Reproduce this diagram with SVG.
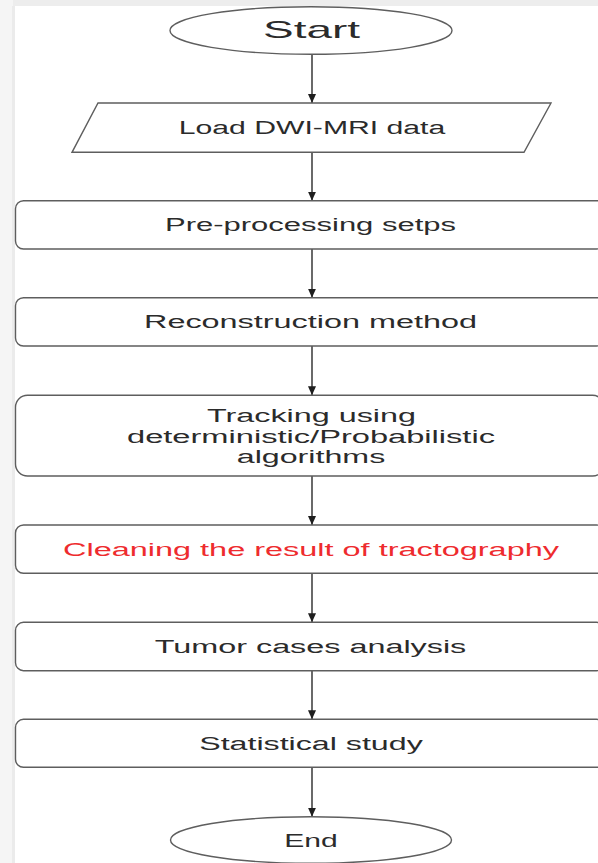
<svg xmlns="http://www.w3.org/2000/svg" width="598" height="863" viewBox="0 0 598 863">
  <style>
    .shape { fill: #ffffff; stroke: #5e5e5e; stroke-width: 1.4; }
    .label { font-family: "Liberation Sans", Arial, sans-serif; font-size: 18px; fill: #2b2b2b; text-anchor: middle; }
    .big { font-size: 24px; }
    .red { fill: #ee2b2e; }
    .edge { stroke: #2a2a2a; stroke-width: 1.4; fill: none; marker-end: url(#arrow); }
  </style>
  <defs>
    <marker id="arrow" viewBox="0 0 9 8" refX="9" refY="4" markerWidth="9" markerHeight="8" markerUnits="userSpaceOnUse" orient="auto">
      <path d="M0,0 L9,4 L0,8 Z" fill="#1e1e1e"/>
    </marker>
  </defs>
  <rect x="0" y="0" width="598" height="863" fill="#ffffff"/>
  <rect x="0" y="0" width="598" height="6" fill="#ededed"/>
  <rect x="0" y="0" width="13" height="863" fill="#f5f5f5"/>
  <rect x="12" y="6" width="3" height="857" fill="#ebebeb"/>

  <g id="connectors">
    <line class="edge" x1="312" y1="54.3" x2="312" y2="103"/>
    <line class="edge" x1="312" y1="152.3" x2="312" y2="200.7"/>
    <line class="edge" x1="312" y1="249" x2="312" y2="297.7"/>
    <line class="edge" x1="312" y1="346" x2="312" y2="395.3"/>
    <line class="edge" x1="312" y1="476" x2="312" y2="525"/>
    <line class="edge" x1="312" y1="573.3" x2="312" y2="622.3"/>
    <line class="edge" x1="312" y1="670.7" x2="312" y2="719.3"/>
    <line class="edge" x1="312" y1="767.3" x2="312" y2="816.7"/>
  </g>

  <g id="start">
    <ellipse class="shape" cx="311" cy="30.5" rx="141" ry="23.8"/>
    <text class="label big" x="311.5" y="38" textLength="97" lengthAdjust="spacingAndGlyphs">Start</text>
  </g>

  <g id="load">
    <polygon class="shape" points="98,103 551,103 524,152.3 72,152.3"/>
    <text class="label" x="312" y="133.5" textLength="266.5" lengthAdjust="spacingAndGlyphs">Load DWI-MRI data</text>
  </g>

  <g id="preprocessing">
    <rect class="shape" x="15.5" y="200.7" width="589" height="48.3" rx="8"/>
    <text class="label" x="310.5" y="231" textLength="291" lengthAdjust="spacingAndGlyphs">Pre-processing setps</text>
  </g>

  <g id="reconstruction">
    <rect class="shape" x="15.5" y="297.7" width="589" height="48.3" rx="8"/>
    <text class="label" x="310.5" y="328.3" textLength="333" lengthAdjust="spacingAndGlyphs">Reconstruction method</text>
  </g>

  <g id="tracking">
    <rect class="shape" x="15.5" y="395.3" width="589" height="80.7" rx="12"/>
    <text class="label" x="311.5" y="421.5" textLength="209" lengthAdjust="spacingAndGlyphs">Tracking using</text>
    <text class="label" x="311" y="442.5" textLength="368" lengthAdjust="spacingAndGlyphs">deterministic/Probabilistic</text>
    <text class="label" x="311" y="462.5" textLength="148.5" lengthAdjust="spacingAndGlyphs">algorithms</text>
  </g>

  <g id="cleaning">
    <rect class="shape" x="15.5" y="525" width="589" height="48.3" rx="8"/>
    <text class="label red" x="311" y="556" textLength="496" lengthAdjust="spacingAndGlyphs">Cleaning the result of tractography</text>
  </g>

  <g id="tumor">
    <rect class="shape" x="15.5" y="622.3" width="589" height="48.4" rx="8"/>
    <text class="label" x="310.5" y="653" textLength="311.5" lengthAdjust="spacingAndGlyphs">Tumor cases analysis</text>
  </g>

  <g id="statistical">
    <rect class="shape" x="15.5" y="719.3" width="589" height="48" rx="8"/>
    <text class="label" x="311" y="749.5" textLength="223.6" lengthAdjust="spacingAndGlyphs">Statistical study</text>
  </g>

  <g id="end">
    <ellipse class="shape" cx="311" cy="840" rx="140.5" ry="23.3"/>
    <text class="label" x="311" y="847" textLength="53.5" lengthAdjust="spacingAndGlyphs">End</text>
  </g>
</svg>
